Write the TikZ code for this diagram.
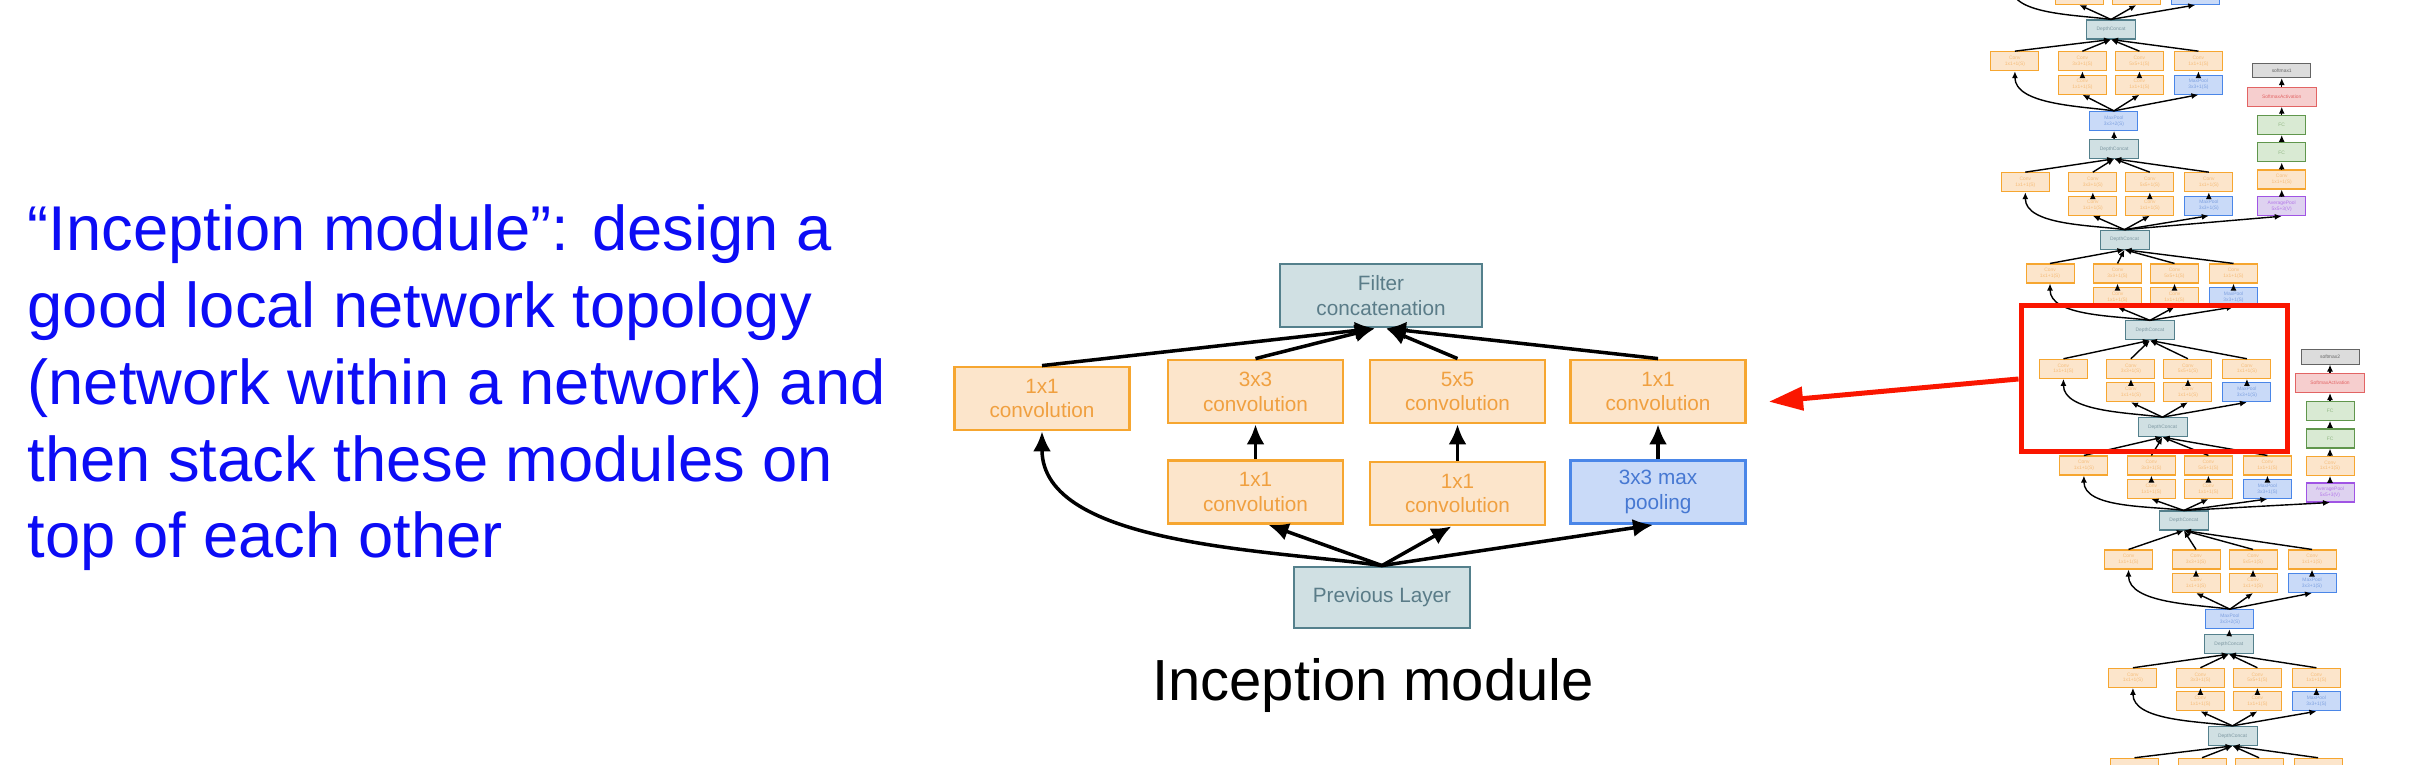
\documentclass[tikz,border=0pt]{standalone}
\usepackage{fontspec}
\setmainfont{Liberation Sans}
\usepackage{tikz}
\usetikzlibrary{calc,arrows.meta}

\definecolor{slideblue}{RGB}{12,12,245}
\definecolor{convfill}{RGB}{252,229,203}
\definecolor{convline}{RGB}{246,166,48}
\definecolor{convtext}{RGB}{240,160,64}
\definecolor{poolfill}{RGB}{201,218,248}
\definecolor{poolline}{RGB}{74,134,232}
\definecolor{pooltext}{RGB}{70,120,210}
\definecolor{catfill}{RGB}{208,224,227}
\definecolor{catline}{RGB}{84,128,140}
\definecolor{cattext}{RGB}{90,124,136}
\definecolor{fcfill}{RGB}{217,234,211}
\definecolor{fcline}{RGB}{96,150,76}
\definecolor{actfill}{RGB}{246,206,206}
\definecolor{actline}{RGB}{226,100,100}
\definecolor{outfill}{RGB}{220,220,220}
\definecolor{outline}{RGB}{100,100,100}
\definecolor{avgfill}{RGB}{222,210,240}
\definecolor{avgline}{RGB}{160,84,228}
\definecolor{framered}{RGB}{250,22,0}

\tikzset{
  box/.style={draw,line width=0.8pt,minimum width=17.5mm,minimum height=6.3mm,
    inner sep=0pt,align=center,font=\fontsize{5.9}{7.1}\selectfont},
  convbox/.style={box,draw=convline,fill=convfill,text=convtext},
  poolbox/.style={box,draw=poolline,fill=poolfill,text=pooltext},
  catbox/.style={box,draw=catline,fill=catfill,text=cattext},
  arr/.style={-{Latex[length=2mm,width=1.8mm]},line width=1pt},
  sbox/.style={draw,line width=0.3pt,minimum width=4.8mm,minimum height=1.9mm,
    inner sep=0pt,align=center,font=\fontsize{1.4}{1.7}\selectfont},
  sconv/.style={sbox,draw=convline,fill=convfill,text=convtext!70},
  spool/.style={sbox,draw=poolline,fill=poolfill,text=pooltext!70},
  scat/.style={sbox,draw=catline,fill=catfill,text=cattext!80,minimum width=4.9mm},
  sfc/.style={sbox,draw=fcline,fill=fcfill,text=fcline!70},
  sact/.style={sbox,draw=actline,fill=actfill,text=actline,minimum width=6.9mm},
  sout/.style={sbox,draw=outline,fill=outfill,text=outline,minimum width=5.8mm,minimum height=1.45mm},
  savg/.style={sbox,draw=avgline,fill=avgfill,text=avgline!80},
  sarr/.style={-{Latex[length=0.7mm,width=0.6mm]},line width=0.4pt},
  redframe/.style={draw=framered,line width=1.42pt,minimum width=26.6mm,minimum height=14.6mm,inner sep=0pt},
  redarr/.style={-{Triangle[length=3.4mm,width=2.3mm]},draw=framered,fill=framered,line width=1.42pt}
}

% labels of the small boxes (left empty where a box is cut by the edge)
\newcommand{\lbl}[1]{#1}

% one small module of the long network: prefix, centre x, top of upper row (image y), input, output
\newcommand{\minimod}[5]{%
  \pgfmathsetmacro{\yu}{765-#3-9.5}
  \pgfmathsetmacro{\yl}{765-#3-33}
  \node[sconv] (#1a) at (#2-96,\yu) {\lbl{Conv\\1x1+1(S)}};
  \node[sconv] (#1b) at (#2-28.5,\yu) {\lbl{Conv\\3x3+1(S)}};
  \node[sconv] (#1c) at (#2+28.5,\yu) {\lbl{Conv\\5x5+1(S)}};
  \node[sconv] (#1d) at (#2+87.5,\yu) {\lbl{Conv\\1x1+1(S)}};
  \node[sconv] (#1e) at (#2-28.5,\yl) {\lbl{Conv\\1x1+1(S)}};
  \node[sconv] (#1f) at (#2+28.5,\yl) {\lbl{Conv\\1x1+1(S)}};
  \node[spool] (#1g) at (#2+87.5,\yl) {\lbl{MaxPool\\3x3+1(S)}};
  \draw[sarr] (#1e) -- (#1b);
  \draw[sarr] (#1f) -- (#1c);
  \draw[sarr] (#1g) -- (#1d);
  \draw[sarr] (#4.north) to[out=172,in=-90,looseness=0.8] (#1a.south);
  \foreach \b in {e,f,g}
    \draw[sarr] (#4.north) -- (#1\b.south);
  \foreach \b in {a,b,c,d}
    \draw[sarr] (#1\b.north) -- (#5.south);
}

\begin{document}
\begin{tikzpicture}[x=0.1mm,y=0.1mm]
  \useasboundingbox (0,0) rectangle (2417,765);
  \clip (0,0) rectangle (2417,765);

  % text on the left
  \foreach \l [count=\i] in {“Inception module”: design a,good local network topology,
      (network within a network) and,then stack these modules on,top of each other}
    \node[anchor=base west,inner sep=0pt,text=slideblue,font=\fontsize{18}{21.8}\selectfont]
      (line\i) at (27,{765-251-(\i-1)*76.7}) {\l};

  % the inception module
  \node[catbox,minimum width=20.2mm] (concat) at (1381,469.5) {Filter\\concatenation};
  \node[convbox] (l1) at (1042,366.5) {1x1\\convolution};
  \node[convbox] (c3) at (1255.5,373.5) {3x3\\convolution};
  \node[convbox] (c5) at (1457.5,373.5) {5x5\\convolution};
  \node[convbox] (r1) at (1658,373.5) {1x1\\convolution};
  \node[convbox] (c3r) at (1255.5,273) {1x1\\convolution};
  \node[convbox] (c5r) at (1457.5,271.5) {1x1\\convolution};
  \node[poolbox] (maxp) at (1658,273) {3x3 max\\pooling};
  \node[catbox,minimum width=17.6mm,minimum height=6.1mm] (prev) at (1382,167.5) {Previous Layer};
  \node[anchor=base,inner sep=0pt,font=\fontsize{16.5}{19}\selectfont] (caption) at (1373,64) {Inception module};

  \draw[arr] (l1.north) -- ([xshift=-0.6mm]concat.south);
  \draw[arr] (c3.north) -- ([xshift=-0.6mm]concat.south);
  \draw[arr] (c5.north) -- ([xshift=0.5mm]concat.south);
  \draw[arr] (r1.north) -- ([xshift=0.5mm]concat.south);
  \draw[arr] (c3r) -- (c3);
  \draw[arr] (c5r) -- (c5);
  \draw[arr] (maxp) -- (r1);
  \draw[arr] (prev.north) to[out=172,in=-90,looseness=0.8] (l1.south);
  \draw[arr] (prev.north) -- ([xshift=1.3mm]c3r.south);
  \draw[arr] (prev.north) -- ([xshift=-0.6mm]c5r.south);
  \draw[arr] (prev.north) -- ([xshift=-0.5mm]maxp.south);

  % the long network on the right
  \node[scat] (dcA) at (2111,735.5) {DepthConcat};
  \node[spool] (mpC) at (2113.9,644.1) {MaxPool\\3x3+2(S)};
  \node[scat] (dcD) at (2114.2,616.2) {DepthConcat};
  \node[scat] (dcF) at (2124.5,525.3) {DepthConcat};
  \node[scat] (dcH) at (2149.9,434.6) {DepthConcat};
  \node[scat] (dcJ) at (2162.5,337.8) {DepthConcat};
  \node[scat] (dcL) at (2183.8,244.5) {DepthConcat};
  \node[spool] (mpN) at (2229.9,145.8) {MaxPool\\3x3+2(S)};
  \node[scat] (dcO) at (2228.8,120.8) {DepthConcat};
  \node[scat] (dcQ) at (2232.5,29.1) {DepthConcat};
  \coordinate (topout) at (2105,840);
  \coordinate (botin) at (2232,-90);

  \draw[sarr] (dcD) -- (mpC);
  \draw[sarr] (dcO) -- (mpN);

  {\renewcommand{\lbl}[1]{}\minimod{mz}{2107.8}{-38}{dcA}{topout}}
  \minimod{mb}{2110.9}{51.7}{mpC}{dcA}
  \minimod{me}{2121.3}{172.7}{dcF}{dcD}
  \minimod{mg}{2146}{264}{dcH}{dcF}
  \minimod{mi}{2159.4}{359.3}{dcJ}{dcH}
  \minimod{mk}{2179.9}{456}{dcL}{dcJ}
  \minimod{mm}{2224.5}{550}{mpN}{dcL}
  \minimod{mo}{2228.9}{668.3}{dcQ}{dcO}
  {\renewcommand{\lbl}[1]{}\minimod{mq}{2230.5}{758.3}{botin}{dcQ}}

  % side branches
  \node[savg] (aone) at (2281.7,558.8) {AveragePool\\5x5+3(V)};
  \node[sconv] (bone) at (2281.7,585.5) {Conv\\1x1+1(S)};
  \node[sfc] (cone) at (2281.7,612.6) {FC};
  \node[sfc] (done) at (2281.7,640.1) {FC};
  \node[sact] (eone) at (2281.7,668.3) {SoftmaxActivation};
  \node[sout] (fone) at (2281.7,694.7) {softmax1};
  \node[savg] (atwo) at (2330,272.5) {AveragePool\\5x5+3(V)};
  \node[sconv] (btwo) at (2330,299.2) {Conv\\1x1+1(S)};
  \node[sfc] (ctwo) at (2330,326.5) {FC};
  \node[sfc] (dtwo) at (2330,354.2) {FC};
  \node[sact] (etwo) at (2330,382) {SoftmaxActivation};
  \node[sout] (ftwo) at (2330,408.2) {softmax2};
  \foreach \p/\q in {aone/bone,bone/cone,cone/done,done/eone,eone/fone,
                     atwo/btwo,btwo/ctwo,ctwo/dtwo,dtwo/etwo,etwo/ftwo}
    \draw[sarr] (\p) -- (\q);
  \draw[sarr] (dcF.north) -- (aone.south);
  \draw[sarr] (dcL.north) -- (atwo.south);

  % red frame and pointer
  \node[redframe] (zoom) at (2154,386) {};
  \coordinate (tip) at (1769,363.3);
  \draw[redarr] (zoom.west) -- (tip);
\end{tikzpicture}
\end{document}
